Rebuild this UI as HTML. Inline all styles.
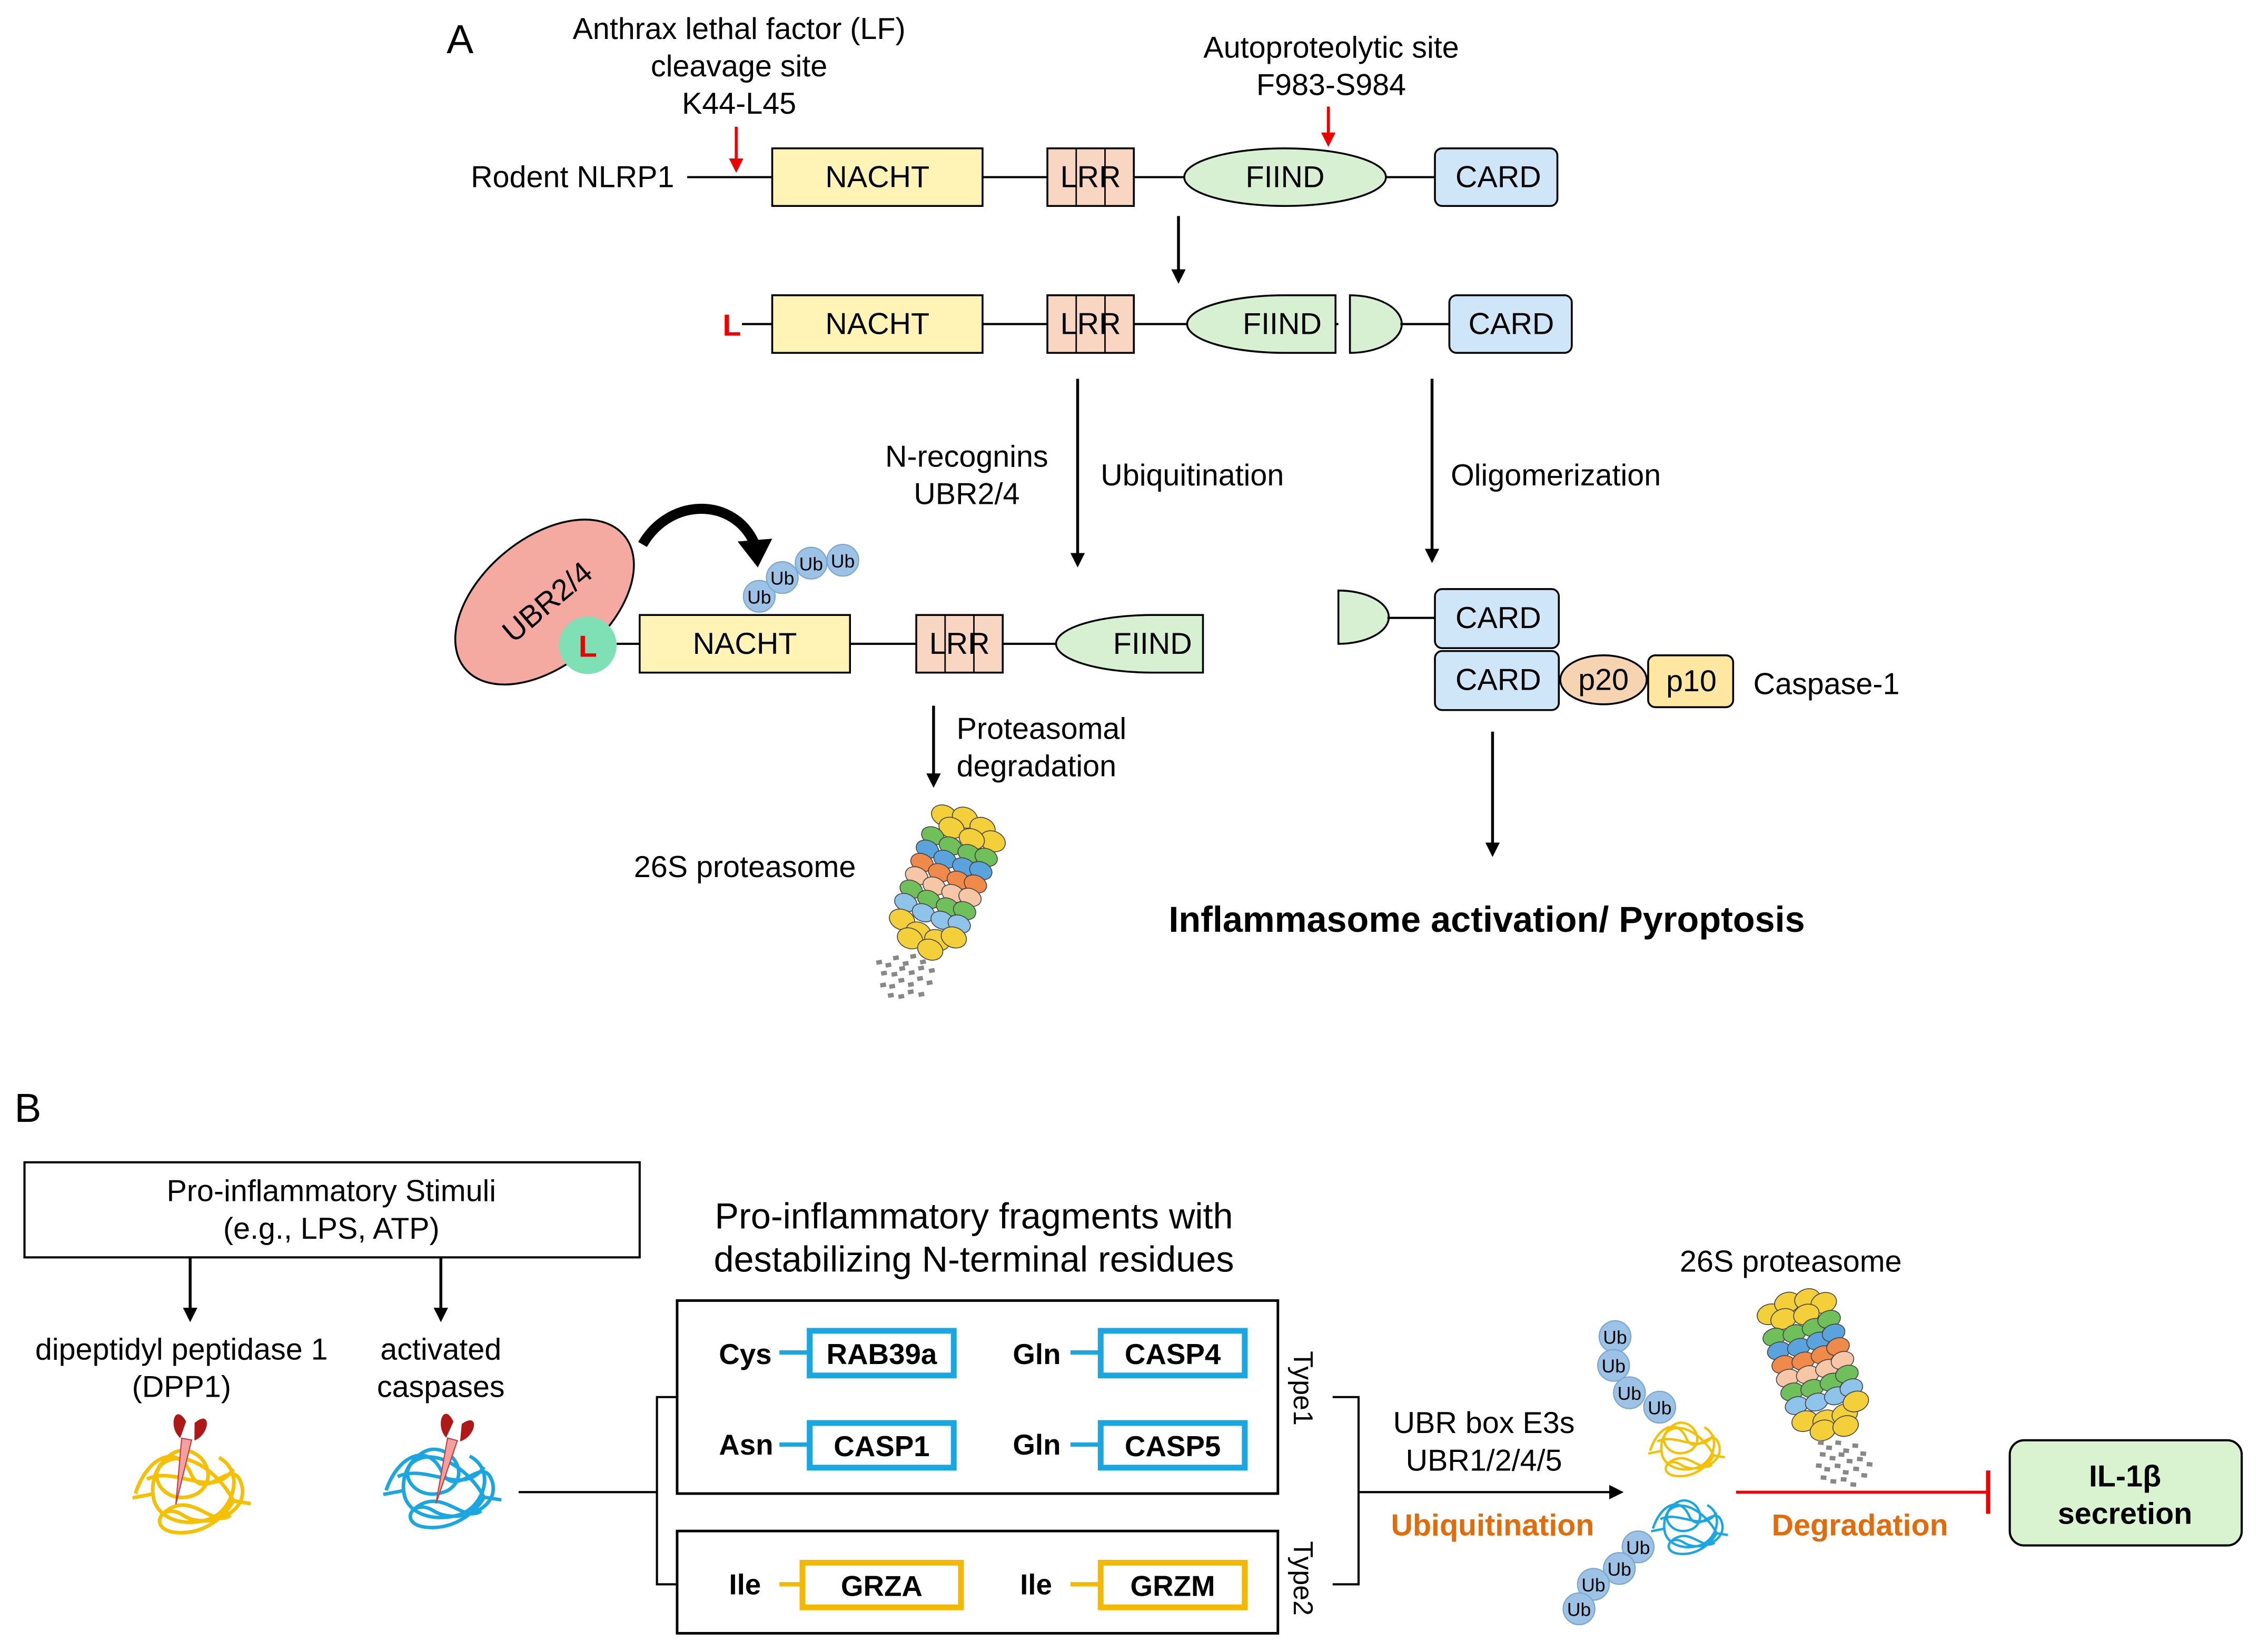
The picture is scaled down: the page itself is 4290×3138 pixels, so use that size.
<!DOCTYPE html>
<html><head><meta charset="utf-8"><style>
html,body{margin:0;padding:0;background:#fff}
svg{display:block}
text{font-family:"Liberation Sans",Arial,sans-serif;fill:#000}
</style></head><body>
<svg width="4290" height="3138" viewBox="0 0 1568 1147" preserveAspectRatio="none" xmlns="http://www.w3.org/2000/svg">
<defs>
<marker id="ab" markerWidth="10" markerHeight="10" refX="5" refY="5" orient="auto" markerUnits="userSpaceOnUse"><path d="M0,0 L10,5 L0,10 z" fill="#000"/></marker>
<marker id="ar" markerWidth="10" markerHeight="10" refX="5" refY="5" orient="auto" markerUnits="userSpaceOnUse"><path d="M0,0 L10,5 L0,10 z" fill="#e00"/></marker>
<g id="prot">
 <g stroke="#444" stroke-width="0.6">
 <g fill="#f3d03a"><ellipse cx="-18" cy="-40" rx="9" ry="7"/><ellipse cx="-4" cy="-44" rx="9" ry="7"/><ellipse cx="10" cy="-42" rx="9" ry="7"/><ellipse cx="20" cy="-36" rx="9" ry="7"/><ellipse cx="-10" cy="-34" rx="9" ry="7"/><ellipse cx="6" cy="-32" rx="9" ry="7"/></g>
 <g fill="#6fbf5a"><ellipse cx="-20" cy="-24" rx="8" ry="6"/><ellipse cx="-6" cy="-22" rx="8" ry="6"/><ellipse cx="8" cy="-22" rx="8" ry="6"/><ellipse cx="20" cy="-24" rx="8" ry="6"/></g>
 <g fill="#5aa3dc"><ellipse cx="-20" cy="-14" rx="8" ry="6"/><ellipse cx="-6" cy="-12" rx="8" ry="6"/><ellipse cx="8" cy="-12" rx="8" ry="6"/><ellipse cx="20" cy="-14" rx="8" ry="6"/></g>
 <g fill="#f08a4b"><ellipse cx="-20" cy="-4" rx="8" ry="6"/><ellipse cx="-6" cy="-2" rx="8" ry="6"/><ellipse cx="8" cy="-2" rx="8" ry="6"/><ellipse cx="20" cy="-4" rx="8" ry="6"/></g>
 <g fill="#f6c6a6"><ellipse cx="-20" cy="6" rx="8" ry="6"/><ellipse cx="-6" cy="8" rx="8" ry="6"/><ellipse cx="8" cy="8" rx="8" ry="6"/><ellipse cx="20" cy="6" rx="8" ry="6"/></g>
 <g fill="#6fbf5a"><ellipse cx="-20" cy="16" rx="8" ry="6"/><ellipse cx="-6" cy="18" rx="8" ry="6"/><ellipse cx="8" cy="18" rx="8" ry="6"/><ellipse cx="20" cy="16" rx="8" ry="6"/></g>
 <g fill="#8ec3ea"><ellipse cx="-20" cy="26" rx="8" ry="6"/><ellipse cx="-6" cy="28" rx="8" ry="6"/><ellipse cx="8" cy="28" rx="8" ry="6"/><ellipse cx="20" cy="26" rx="8" ry="6"/></g>
 <g fill="#f3d03a"><ellipse cx="-18" cy="38" rx="9" ry="7"/><ellipse cx="-4" cy="42" rx="9" ry="7"/><ellipse cx="10" cy="42" rx="9" ry="7"/><ellipse cx="20" cy="36" rx="9" ry="7"/><ellipse cx="-8" cy="48" rx="9" ry="7"/><ellipse cx="8" cy="50" rx="9" ry="7"/></g>
 </g>
</g>
<g id="dots" fill="#888">
 <rect x="0" y="0" width="4" height="3"/><rect x="6" y="3" width="4" height="3"/><rect x="12" y="-1" width="4" height="3"/><rect x="18" y="4" width="4" height="3"/><rect x="24" y="0" width="4" height="3"/><rect x="30" y="5" width="4" height="3"/>
 <rect x="2" y="8" width="4" height="3"/><rect x="9" y="10" width="4" height="3"/><rect x="15" y="7" width="4" height="3"/><rect x="21" y="11" width="4" height="3"/><rect x="28" y="9" width="4" height="3"/><rect x="35" y="12" width="4" height="3"/>
 <rect x="0" y="16" width="4" height="3"/><rect x="6" y="18" width="4" height="3"/><rect x="13" y="15" width="4" height="3"/><rect x="19" y="19" width="4" height="3"/><rect x="26" y="16" width="4" height="3"/><rect x="32" y="20" width="4" height="3"/>
 <rect x="4" y="24" width="4" height="3"/><rect x="11" y="26" width="4" height="3"/><rect x="18" y="24" width="4" height="3"/><rect x="25" y="27" width="4" height="3"/>
</g>
<path id="tangle" fill="none" stroke-width="2.5" d="M-38,5 C-30,-20 -10,-30 0,-10 C10,15 30,-25 36,0 C40,20 10,30 -5,20 C-20,10 -30,30 -10,32 C10,34 25,20 30,10 C20,-10 -5,-28 -20,-15 C-30,-5 -15,15 5,5 C20,-5 10,-25 -5,-25 C-15,-25 -30,-10 -25,10 C-20,25 0,28 15,22 C30,15 38,-10 20,-20 M-40,8 L-25,5 M30,10 L42,12 M-30,-5 C-10,-15 15,10 30,-12 M-20,20 C0,0 15,30 28,20"/>
<g id="scis"><path d="M-2,-18 C-12,-30 -14,-12 -4,-6 Z" fill="#b01818"/><path d="M4,-18 C14,-30 16,-12 6,-6 Z" fill="#b01818"/><path d="M-3,-6 L1,40 L4,-6 Z" fill="#f5a0a0" stroke="#c04040" stroke-width="0.8"/></g>
</defs>

<!-- Panel A -->
<text x="310" y="37" font-size="28">A</text>
<g font-size="21" text-anchor="middle">
<text x="513" y="27">Anthrax lethal factor (LF)</text>
<text x="513" y="53">cleavage site</text>
<text x="513" y="79">K44-L45</text>
<text x="924" y="40">Autoproteolytic site</text>
<text x="924" y="66">F983-S984</text>
</g>
<line x1="511" y1="88" x2="511" y2="115" stroke="#e00" stroke-width="2" marker-end="url(#ar)"/>
<line x1="922" y1="74" x2="922" y2="97" stroke="#e00" stroke-width="2" marker-end="url(#ar)"/>

<!-- row1 -->
<text x="468" y="130" font-size="21" text-anchor="end">Rodent NLRP1</text>
<line x1="477" y1="123" x2="996" y2="123" stroke="#000" stroke-width="1.5"/>
<rect x="536" y="103" width="146" height="40" fill="#fff3b5" stroke="#000" stroke-width="1.3"/>
<text x="609" y="130" font-size="21" text-anchor="middle">NACHT</text>
<rect x="727" y="103" width="60" height="40" fill="#f9d6c1" stroke="#000" stroke-width="1.3"/>
<line x1="747" y1="103" x2="747" y2="143" stroke="#000"/><line x1="767" y1="103" x2="767" y2="143" stroke="#000"/>
<text x="757" y="130" font-size="21" text-anchor="middle">LRR</text>
<ellipse cx="892" cy="123" rx="70" ry="20" fill="#d7f0d1" stroke="#000" stroke-width="1.3"/>
<text x="892" y="130" font-size="21" text-anchor="middle">FIIND</text>
<rect x="996" y="103" width="85" height="40" rx="5" fill="#cfe5f8" stroke="#000" stroke-width="1.3"/>
<text x="1040" y="130" font-size="21" text-anchor="middle">CARD</text>
<line x1="818" y1="150" x2="818" y2="192" stroke="#000" stroke-width="2" marker-end="url(#ab)"/>

<!-- row2 -->
<text x="508" y="233" font-size="21" font-weight="bold" text-anchor="middle" style="fill:#e00">L</text>
<line x1="515" y1="225" x2="1006" y2="225" stroke="#000" stroke-width="1.5"/>
<rect x="536" y="205" width="146" height="40" fill="#fff3b5" stroke="#000" stroke-width="1.3"/>
<text x="609" y="232" font-size="21" text-anchor="middle">NACHT</text>
<rect x="727" y="205" width="60" height="40" fill="#f9d6c1" stroke="#000" stroke-width="1.3"/>
<line x1="747" y1="205" x2="747" y2="245" stroke="#000"/><line x1="767" y1="205" x2="767" y2="245" stroke="#000"/>
<text x="757" y="232" font-size="21" text-anchor="middle">LRR</text>
<path d="M927,205 L892,205 A68,20 0 0 0 892,245 L927,245 Z" fill="#d7f0d1" stroke="#000" stroke-width="1.3"/>
<text x="890" y="232" font-size="21" text-anchor="middle">FIIND</text>
<rect x="929" y="203" width="46" height="44" fill="#fff"/>
<path d="M937,205 A36,20 0 0 1 937,245 Z" fill="#d7f0d1" stroke="#000" stroke-width="1.3"/>
<line x1="972" y1="225" x2="1006" y2="225" stroke="#000" stroke-width="1.5"/>
<rect x="1006" y="205" width="85" height="40" rx="5" fill="#cfe5f8" stroke="#000" stroke-width="1.3"/>
<text x="1049" y="232" font-size="21" text-anchor="middle">CARD</text>
<line x1="748" y1="263" x2="748" y2="389" stroke="#000" stroke-width="2" marker-end="url(#ab)"/>
<line x1="994" y1="263" x2="994" y2="386" stroke="#000" stroke-width="2" marker-end="url(#ab)"/>
<g font-size="21">
<text x="671" y="324" text-anchor="middle">N-recognins</text>
<text x="671" y="350" text-anchor="middle">UBR2/4</text>
<text x="764" y="337">Ubiquitination</text>
<text x="1007" y="337">Oligomerization</text>
</g>

<!-- row3 left -->
<ellipse cx="378" cy="418" rx="72" ry="44" transform="rotate(-40 378 418)" fill="#f4aaa0" stroke="#000" stroke-width="1.3"/>
<text x="380" y="425" font-size="21" text-anchor="middle" transform="rotate(-40 380 418)">UBR2/4</text>
<line x1="428" y1="447" x2="444" y2="447" stroke="#000" stroke-width="1.5"/>
<circle cx="408" cy="448" r="20" fill="#7fe0b5"/>
<text x="408" y="456" font-size="21" font-weight="bold" text-anchor="middle" style="fill:#e00">L</text>
<rect x="444" y="427" width="146" height="40" fill="#fff3b5" stroke="#000" stroke-width="1.3"/>
<text x="517" y="454" font-size="21" text-anchor="middle">NACHT</text>
<line x1="590" y1="447" x2="733" y2="447" stroke="#000" stroke-width="1.5"/>
<rect x="636" y="427" width="60" height="40" fill="#f9d6c1" stroke="#000" stroke-width="1.3"/>
<line x1="656" y1="427" x2="656" y2="467" stroke="#000"/><line x1="676" y1="427" x2="676" y2="467" stroke="#000"/>
<text x="666" y="454" font-size="21" text-anchor="middle">LRR</text>
<path d="M835,427 L800,427 A67,20 0 0 0 800,467 L835,467 Z" fill="#d7f0d1" stroke="#000" stroke-width="1.3"/>
<text x="800" y="454" font-size="21" text-anchor="middle">FIIND</text>
<path d="M446,378 C465,345 510,345 524,378" fill="none" stroke="#000" stroke-width="7"/>
<path d="M512,376 L536,374 L526,394 Z" fill="#000"/>
<g fill="#9cc3e6" stroke="#7aa6cc" stroke-width="0.8">
<circle cx="527" cy="414" r="11"/><circle cx="543" cy="401" r="11"/><circle cx="563" cy="391" r="11"/><circle cx="585" cy="389" r="11"/>
</g>
<g font-size="13" text-anchor="middle"><text x="527" y="419">Ub</text><text x="543" y="406">Ub</text><text x="563" y="396">Ub</text><text x="585" y="394">Ub</text></g>
<line x1="648" y1="490" x2="648" y2="542" stroke="#000" stroke-width="2" marker-end="url(#ab)"/>
<text x="664" y="513" font-size="21">Proteasomal</text>
<text x="664" y="539" font-size="21">degradation</text>
<text x="440" y="609" font-size="21">26S proteasome</text>
<use href="#prot" transform="translate(657,610) rotate(22)"/>
<use href="#dots" transform="translate(608,667) rotate(-10)"/>

<!-- row3 right -->
<path d="M929,410 A35,18.5 0 0 1 929,447 Z" fill="#d7f0d1" stroke="#000" stroke-width="1.3"/>
<line x1="963" y1="429" x2="996" y2="429" stroke="#000" stroke-width="1.5"/>
<rect x="996" y="409" width="86" height="41" rx="5" fill="#cfe5f8" stroke="#000" stroke-width="1.3"/>
<text x="1040" y="436" font-size="21" text-anchor="middle">CARD</text>
<rect x="996" y="452" width="86" height="41" rx="5" fill="#cfe5f8" stroke="#000" stroke-width="1.3"/>
<text x="1040" y="479" font-size="21" text-anchor="middle">CARD</text>
<ellipse cx="1113" cy="472" rx="30" ry="17" fill="#f7d4b1" stroke="#000" stroke-width="1.3"/>
<text x="1113" y="479" font-size="21" text-anchor="middle">p20</text>
<rect x="1144" y="455" width="59" height="36" rx="5" fill="#ffe7a1" stroke="#000" stroke-width="1.3"/>
<text x="1174" y="480" font-size="21" text-anchor="middle">p10</text>
<text x="1217" y="482" font-size="21">Caspase-1</text>
<line x1="1036" y1="508" x2="1036" y2="590" stroke="#000" stroke-width="2" marker-end="url(#ab)"/>
<text x="1032" y="647" font-size="25" font-weight="bold" text-anchor="middle">Inflammasome activation/ Pyroptosis</text>

<!-- Panel B -->
<text x="10" y="779" font-size="28">B</text>
<rect x="17" y="807" width="427" height="66" fill="#fff" stroke="#000" stroke-width="1.5"/>
<text x="230" y="834" font-size="21" text-anchor="middle">Pro-inflammatory Stimuli</text>
<text x="230" y="860" font-size="21" text-anchor="middle">(e.g., LPS, ATP)</text>
<line x1="132" y1="873" x2="132" y2="913" stroke="#000" stroke-width="2" marker-end="url(#ab)"/>
<line x1="306" y1="873" x2="306" y2="913" stroke="#000" stroke-width="2" marker-end="url(#ab)"/>
<g font-size="21" text-anchor="middle">
<text x="126" y="944">dipeptidyl peptidase 1</text>
<text x="126" y="970">(DPP1)</text>
<text x="306" y="944">activated</text>
<text x="306" y="970">caspases</text>
</g>
<use href="#tangle" stroke="#f5c000" transform="translate(132,1032)"/>
<use href="#tangle" stroke="#1aa6e0" transform="translate(306,1030) scale(1,0.95)"/>
<use href="#scis" transform="translate(128,1005) rotate(10)"/>
<use href="#scis" transform="translate(312,1005) rotate(15)"/>

<line x1="360" y1="1036" x2="456" y2="1036" stroke="#000" stroke-width="1.5"/>
<path d="M470,970 L456,970 L456,1100 L470,1100" fill="none" stroke="#000" stroke-width="1.5"/>
<text x="676" y="853" font-size="25" text-anchor="middle">Pro-inflammatory fragments with</text>
<text x="676" y="883" font-size="25" text-anchor="middle">destabilizing N-terminal residues</text>
<rect x="470" y="903" width="417" height="134" fill="#fff" stroke="#000" stroke-width="1.8"/>
<rect x="470" y="1063" width="417" height="71" fill="#fff" stroke="#000" stroke-width="1.8"/>
<g font-size="20" font-weight="bold">
<text x="499" y="947">Cys</text><line x1="541" y1="939" x2="562" y2="939" stroke="#1aa6e0" stroke-width="3"/>
<rect x="562" y="924" width="100" height="31" fill="#fff" stroke="#1aa6e0" stroke-width="4"/><text x="612" y="947" text-anchor="middle">RAB39a</text>
<text x="703" y="947">Gln</text><line x1="743" y1="939" x2="764" y2="939" stroke="#1aa6e0" stroke-width="3"/>
<rect x="764" y="924" width="100" height="31" fill="#fff" stroke="#1aa6e0" stroke-width="4"/><text x="814" y="947" text-anchor="middle">CASP4</text>
<text x="499" y="1010">Asn</text><line x1="541" y1="1003" x2="562" y2="1003" stroke="#1aa6e0" stroke-width="3"/>
<rect x="562" y="988" width="100" height="31" fill="#fff" stroke="#1aa6e0" stroke-width="4"/><text x="612" y="1011" text-anchor="middle">CASP1</text>
<text x="703" y="1010">Gln</text><line x1="743" y1="1003" x2="764" y2="1003" stroke="#1aa6e0" stroke-width="3"/>
<rect x="764" y="988" width="100" height="31" fill="#fff" stroke="#1aa6e0" stroke-width="4"/><text x="814" y="1011" text-anchor="middle">CASP5</text>
<text x="506" y="1107">Ile</text><line x1="541" y1="1100" x2="557" y2="1100" stroke="#f5b800" stroke-width="3"/>
<rect x="557" y="1085" width="110" height="31" fill="#fff" stroke="#f5b800" stroke-width="4"/><text x="612" y="1108" text-anchor="middle">GRZA</text>
<text x="708" y="1107">Ile</text><line x1="743" y1="1100" x2="764" y2="1100" stroke="#f5b800" stroke-width="3"/>
<rect x="764" y="1085" width="100" height="31" fill="#fff" stroke="#f5b800" stroke-width="4"/><text x="814" y="1108" text-anchor="middle">GRZM</text>
</g>
<text x="0" y="0" font-size="19" transform="translate(898,938) rotate(90)">Type1</text>
<text x="0" y="0" font-size="19" transform="translate(898,1070) rotate(90)">Type2</text>
<path d="M925,970 L943,970 L943,1100 L925,1100" fill="none" stroke="#000" stroke-width="1.5"/>
<line x1="943" y1="1036" x2="1122" y2="1036" stroke="#000" stroke-width="1.5" marker-end="url(#ab)"/>
<text x="1030" y="995" font-size="21" text-anchor="middle">UBR box E3s</text>
<text x="1030" y="1021" font-size="21" text-anchor="middle">UBR1/2/4/5</text>
<text x="1036" y="1066" font-size="21" font-weight="bold" text-anchor="middle" style="fill:#e36c0a">Ubiquitination</text>
<g fill="#9cc3e6" stroke="#7aa6cc" stroke-width="0.8">
<circle cx="1121" cy="928" r="11"/><circle cx="1120" cy="948" r="11"/><circle cx="1131" cy="967" r="11"/><circle cx="1152" cy="977" r="11"/>
<circle cx="1137" cy="1074" r="11"/><circle cx="1124" cy="1089" r="11"/><circle cx="1106" cy="1100" r="11"/><circle cx="1096" cy="1117" r="11"/>
</g>
<g font-size="13" text-anchor="middle">
<text x="1121" y="933">Ub</text><text x="1120" y="953">Ub</text><text x="1131" y="972">Ub</text><text x="1152" y="982">Ub</text>
<text x="1137" y="1079">Ub</text><text x="1124" y="1094">Ub</text><text x="1106" y="1105">Ub</text><text x="1096" y="1122">Ub</text>
</g>
<use href="#tangle" stroke="#f5c000" transform="translate(1170,1004) scale(0.65)"/>
<use href="#tangle" stroke="#1aa6e0" transform="translate(1172,1058) scale(0.65)"/>
<text x="1243" y="883" font-size="21" text-anchor="middle">26S proteasome</text>
<use href="#prot" transform="translate(1258,945) rotate(-18)"/>
<use href="#dots" transform="translate(1262,1000) rotate(5)"/>
<line x1="1205" y1="1036" x2="1380" y2="1036" stroke="#e00" stroke-width="2"/>
<line x1="1380" y1="1021" x2="1380" y2="1051" stroke="#e00" stroke-width="3"/>
<text x="1291" y="1066" font-size="21" font-weight="bold" text-anchor="middle" style="fill:#e36c0a">Degradation</text>
<rect x="1395" y="1000" width="161" height="73" rx="10" fill="#d9f2d0" stroke="#000" stroke-width="1.5"/>
<text x="1475" y="1032" font-size="21" font-weight="bold" text-anchor="middle">IL-1β</text>
<text x="1475" y="1058" font-size="21" font-weight="bold" text-anchor="middle">secretion</text>
</svg>
</body></html>
